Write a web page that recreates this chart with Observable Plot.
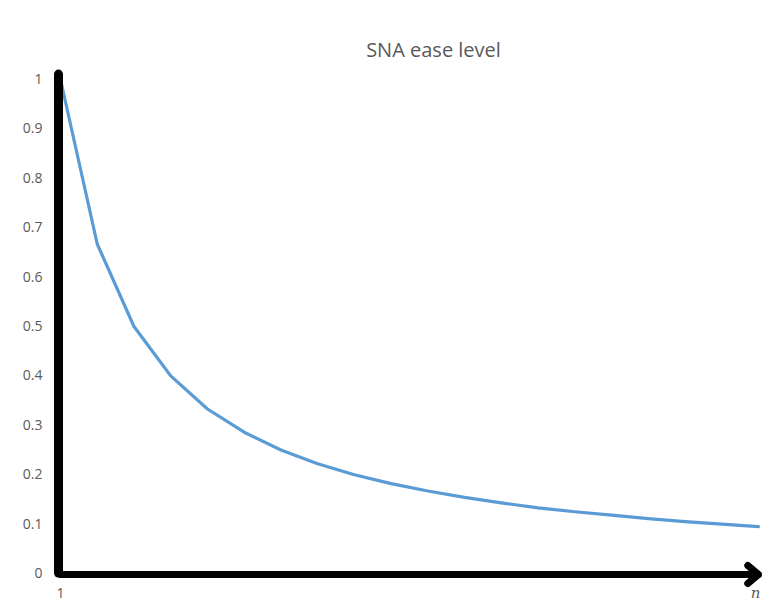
<!DOCTYPE html>
<html>
<head>
<meta charset="utf-8">
<script src="https://cdn.jsdelivr.net/npm/d3@7"></script>
<script src="https://cdn.jsdelivr.net/npm/@observablehq/plot@0.6"></script>
<style>
  body { margin: 0; background: #fff; }
  #wrap { width: 773px; }
  #title { height: 62px; box-sizing: border-box; padding-top: 38px; padding-left: 94px; text-align: center;
    font-family: "Open Sans", Lato, sans-serif; font-size: 20px; line-height: 24px; color: #595959; }
</style>
</head>
<body>
<div id="wrap">
  <div id="title">SNA ease level</div>
  <div id="chart"></div>
</div>
<script>
const titleText = "SNA ease level";
const steps = [1,2,3,4,5,6,7,8,9,10,11,12,13,14,15,16,17,18,19,20];
const ease = [1.0, 0.667, 0.5, 0.4, 0.333, 0.286, 0.25, 0.222, 0.2, 0.182, 0.167, 0.154, 0.143, 0.133, 0.125, 0.118, 0.111, 0.105, 0.1, 0.095];
const yTicks = [0, 0.1, 0.2, 0.3, 0.4, 0.5, 0.6, 0.7, 0.8, 0.9, 1];
const xStartLabel = "1";
const xEndLabel = "n";

const data = steps.map((s, i) => ({step: s, ease: ease[i]}));
const xMin = steps[0], xMax = steps[steps.length - 1];

const chart = Plot.plot({
  width: 773,
  height: 551,
  marginTop: 17,
  marginBottom: 40,
  marginLeft: 60,
  marginRight: 15,
  x: {domain: [xMin, xMax]},
  y: {domain: [0, 1]},
  style: {fontFamily: "'Open Sans', Lato, sans-serif", background: "#fff"},
  marks: [
    Plot.axisY({ticks: yTicks, tickSize: 0, tickPadding: 18, tickFormat: d => String(d), color: "#595959", label: null}),
    Plot.axisX({ticks: [xMin], tickSize: 0, tickPadding: 15, tickFormat: () => xStartLabel, color: "#595959", label: null}),
    Plot.text([xEndLabel], {x: xMax, frameAnchor: "bottom", dy: 24, dx: -3, text: d => d, fill: "#595959", fontStyle: "italic", fontFamily: "'DejaVu Serif', serif", fontSize: 15}),
    Plot.line(data, {x: "step", y: "ease", stroke: "#5B9BD5", strokeWidth: 3.2}),
    Plot.ruleX([xMin], {y1: 0, y2: 1.01, stroke: "#000", strokeWidth: 9, strokeLinecap: "round", dx: -2}),
    Plot.arrow([{a: xMin, b: xMax}], {x1: "a", x2: "b", y1: 0, y2: 0, stroke: "#000", strokeWidth: 7, headLength: 3, headAngle: 80, dy: 1}),
  ]
});
d3.select(chart).selectAll('g[aria-label="y-axis tick label"] text, g[aria-label="x-axis tick label"] text')
  .style("font-size", "14px");
document.getElementById("chart").appendChild(chart);
</script>
</body>
</html>
